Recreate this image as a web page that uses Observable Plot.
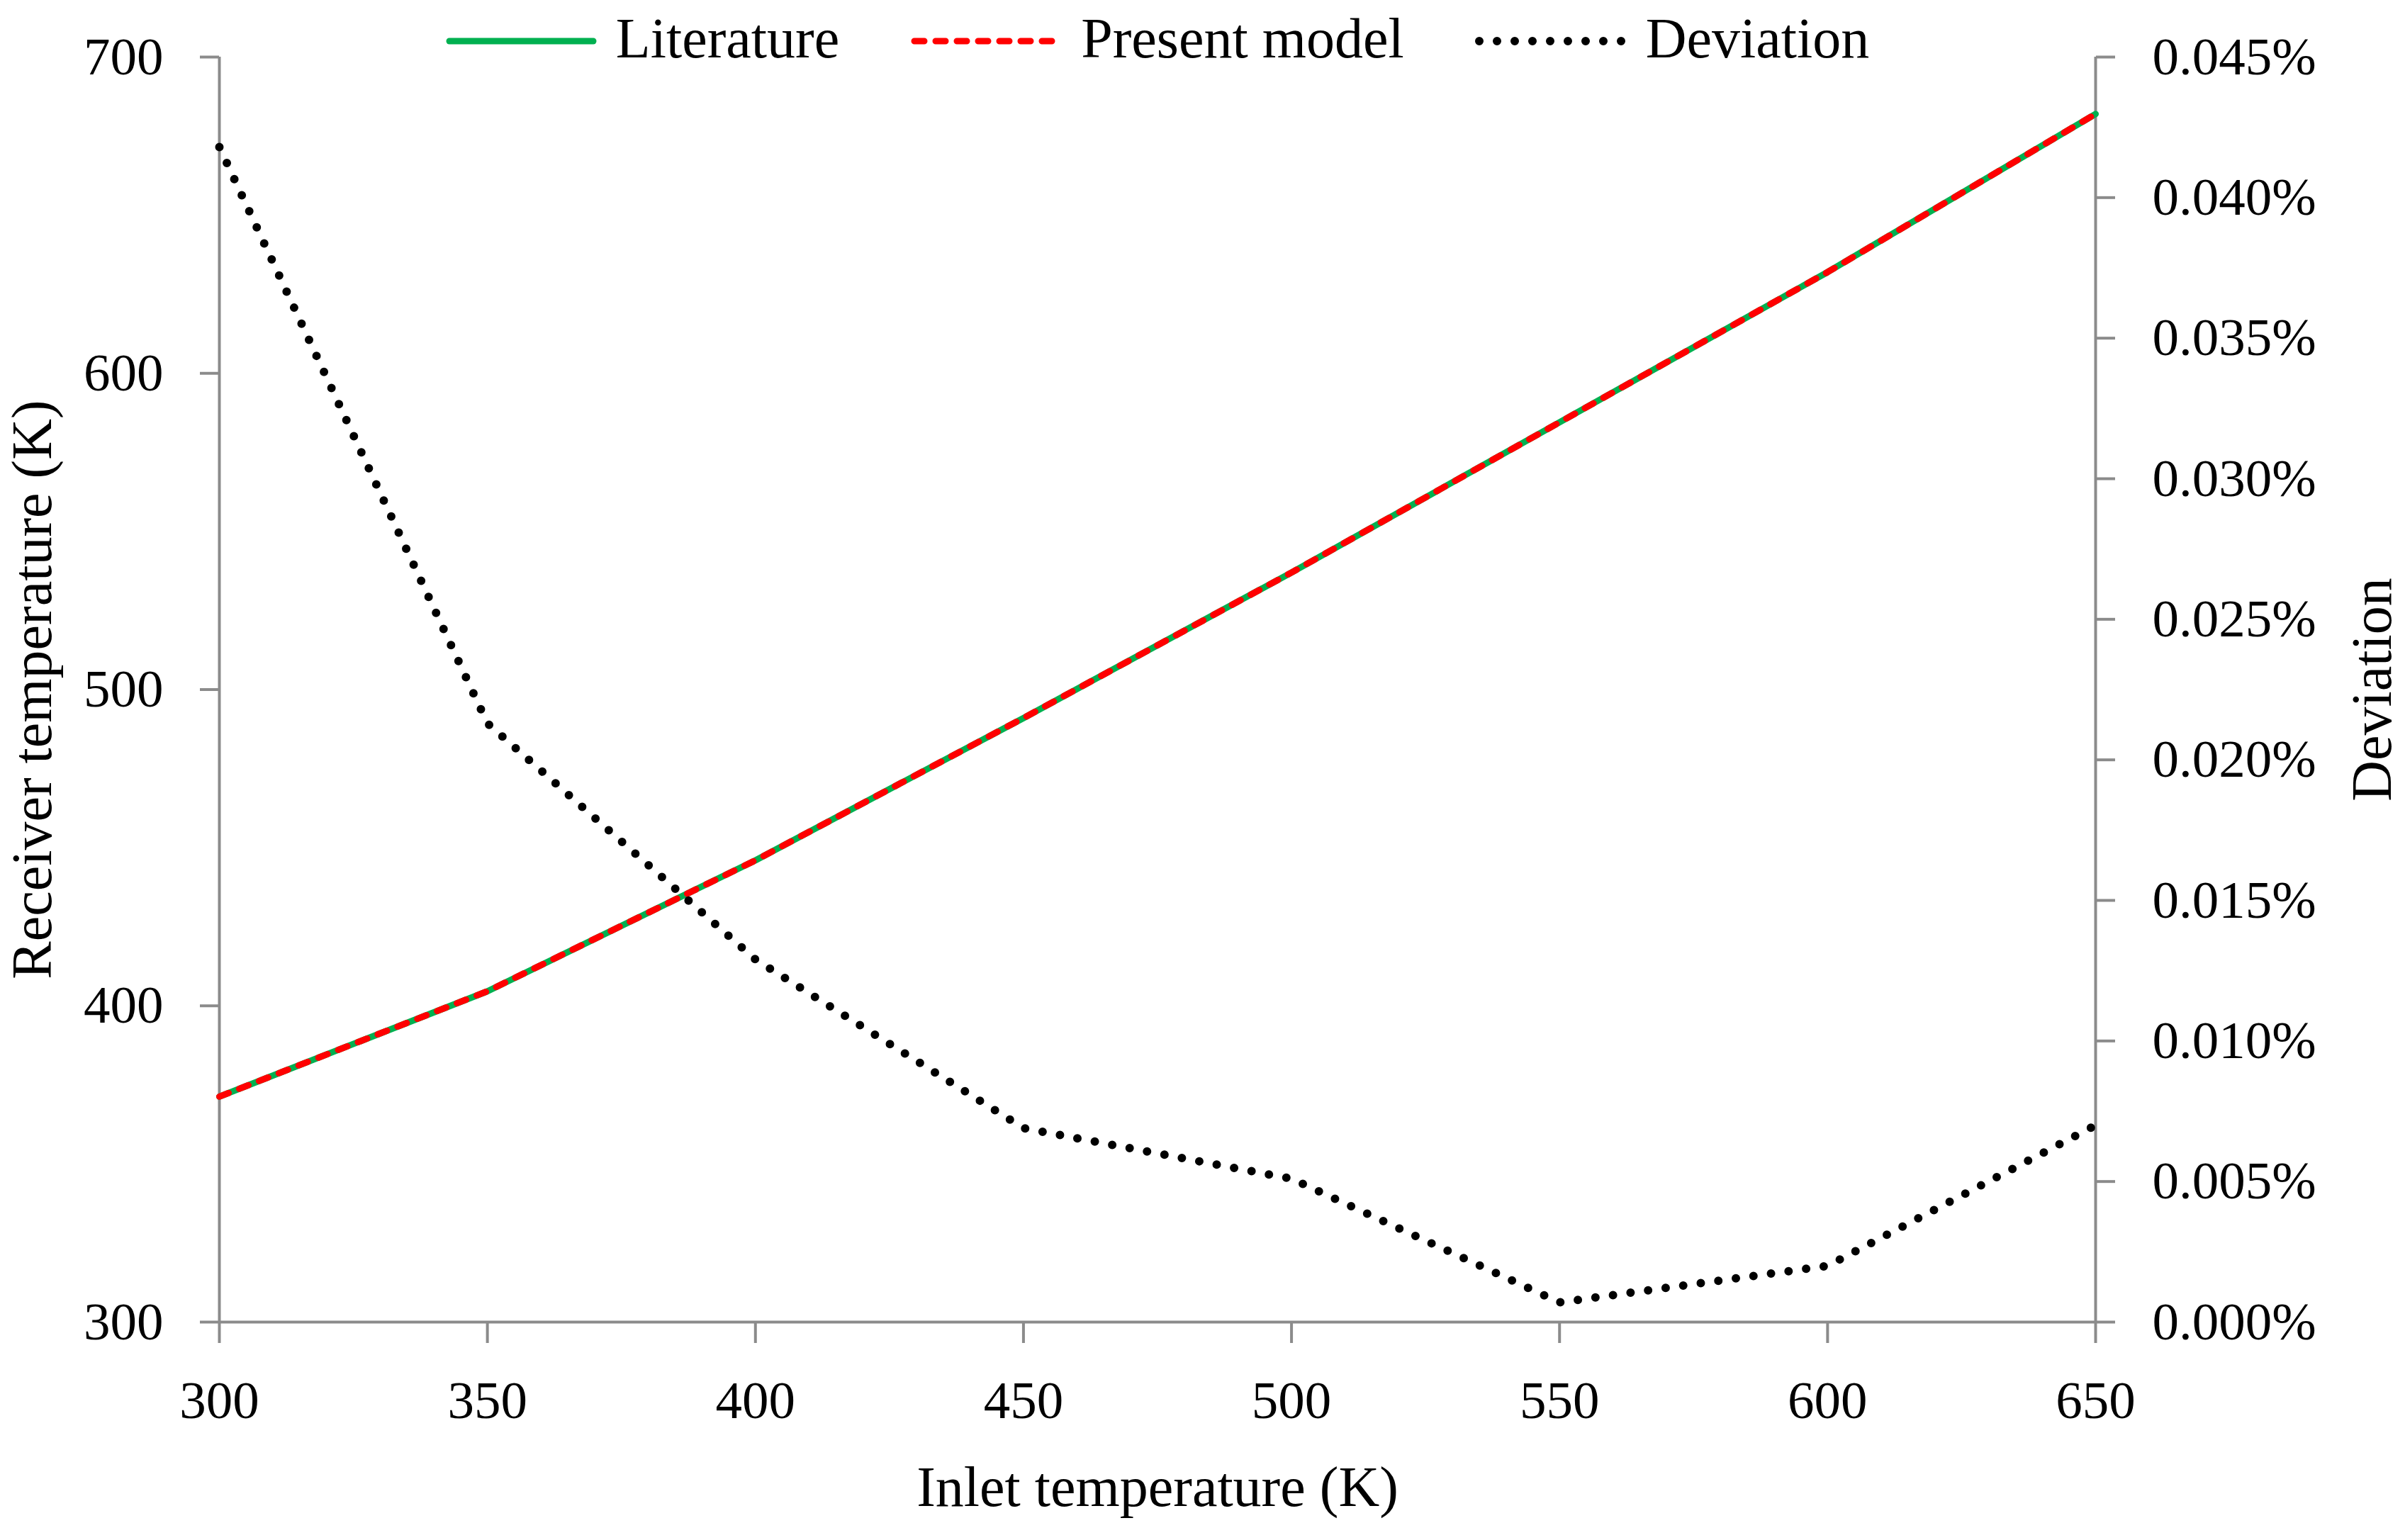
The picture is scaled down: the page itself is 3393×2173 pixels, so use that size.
<!DOCTYPE html>
<html>
<head>
<meta charset="utf-8">
<script src="https://cdn.jsdelivr.net/npm/d3@7"></script>
<script src="https://cdn.jsdelivr.net/npm/@observablehq/plot@0.6"></script>
<style>
  html, body { margin: 0; padding: 0; background: #ffffff; }
  #wrap { position: relative; width: 3393px; height: 2173px; font-family: "Liberation Serif", "Times New Roman", serif; }
  #legend { position: absolute; top: 15px; left: 309px; width: 2647px; height: 78px;
            display: flex; justify-content: center; align-items: center; gap: 100px; }
  .item { display: flex; align-items: center; height: 78px; }
  .item svg { display: block; margin-right: 26px; }
  .item span { font-size: 80px; line-height: 78px; color: #000; white-space: nowrap; }
</style>
</head>
<body>
<div id="wrap">
  <div id="chart"></div>
  <div id="legend"></div>
</div>
<script>
// ---------- data ----------
const inlet = [300, 350, 400, 450, 500, 550, 600, 650];
const literature = [371.3, 404.6, 446.0, 491.0, 537.0, 584.5, 632.0, 682.0];
const presentModel = [371.3, 404.6, 446.0, 491.0, 537.0, 584.5, 632.0, 682.0];
const deviation = [0.0418, 0.0213, 0.0129, 0.0069, 0.0051, 0.0007, 0.0020, 0.0070]; // in %
const xTicks = [300, 350, 400, 450, 500, 550, 600, 650];
const yLeftTicks = [300, 400, 500, 600, 700];
const yRightTicks = [0, 0.005, 0.010, 0.015, 0.020, 0.025, 0.030, 0.035, 0.040, 0.045];
const seriesNames = ["Literature", "Present model", "Deviation"];
const titles = {x: "Inlet temperature (K)", yLeft: "Receiver temperature (K)", yRight: "Deviation"};

// ---------- styling ----------
const gray = "#8b8b8b";
const green = "#00B050";
const red = "#FF0000";
const font = "Liberation Serif";

// dual axis mapping: right (deviation %) onto left domain
const leftDomain = [300, 700];
const rightDomain = [0, 0.045];
const toLeft = v => leftDomain[0] + (v - rightDomain[0]) / (rightDomain[1] - rightDomain[0]) * (leftDomain[1] - leftDomain[0]);
const fromLeft = y => rightDomain[0] + (y - leftDomain[0]) / (leftDomain[1] - leftDomain[0]) * (rightDomain[1] - rightDomain[0]);

const rows = inlet.map((x, i) => ({x, lit: literature[i], model: presentModel[i], dev: deviation[i]}));

const chart = Plot.plot({
  width: 3393,
  height: 2173,
  marginLeft: 309,
  marginRight: 437,
  marginTop: 80,
  marginBottom: 308,
  style: {fontFamily: font, background: "white", color: "black", overflow: "visible"},
  x: {domain: [300, 650]},
  y: {domain: leftDomain},
  marks: [
    Plot.axisX(xTicks, {tickSize: 30, tickPadding: 52, stroke: gray, strokeWidth: 4, fill: "black", fontSize: 75, tickFormat: d => String(d), label: null}),
    Plot.axisY(yLeftTicks, {anchor: "left", tickSize: 27, tickPadding: 52, stroke: gray, strokeWidth: 4, fill: "black", fontSize: 75, tickFormat: d => String(d), label: null}),
    Plot.axisY(yRightTicks.map(toLeft), {anchor: "right", tickSize: 27, tickPadding: 53, stroke: gray, strokeWidth: 4, fill: "black", fontSize: 75,
      tickFormat: d => fromLeft(d).toFixed(3) + "%", label: null}),
    Plot.ruleX([300, 650], {stroke: gray, strokeWidth: 4}),
    Plot.ruleY([300], {stroke: gray, strokeWidth: 4}),
    Plot.lineY(rows, {x: "x", y: "lit", stroke: green, strokeWidth: 9}),
    Plot.lineY(rows, {x: "x", y: "model", stroke: red, strokeWidth: 9, strokeDasharray: "14,16", strokeLinecap: "round"}),
    Plot.lineY(rows, {x: "x", y: d => toLeft(d.dev), stroke: "black", strokeWidth: 12, strokeDasharray: "0,25", strokeLinecap: "round"}),
    Plot.text([titles.x], {text: d => d, frameAnchor: "bottom", dy: 234, lineAnchor: "middle", textAnchor: "middle", fontSize: 80, fill: "black"}),
    Plot.text([titles.yLeft], {text: d => d, frameAnchor: "left", rotate: -90, dx: -263, lineAnchor: "middle", textAnchor: "middle", fontSize: 80, fill: "black"}),
    Plot.text([titles.yRight], {text: d => d, frameAnchor: "right", rotate: -90, dx: 391, lineAnchor: "middle", textAnchor: "middle", fontSize: 80, fill: "black"})
  ]
});
document.getElementById("chart").appendChild(chart);

// ---------- legend ----------
const swatches = [
  {stroke: green, width: 9, dash: null, cap: "round"},
  {stroke: red, width: 9, dash: "14,16", cap: "round"},
  {stroke: "black", width: 12, dash: "0,25", cap: "round"}
];
const legend = document.getElementById("legend");
seriesNames.forEach((name, i) => {
  const s = swatches[i];
  const item = document.createElement("div");
  item.className = "item";
  const ns = "http://www.w3.org/2000/svg";
  const svg = document.createElementNS(ns, "svg");
  svg.setAttribute("width", 215);
  svg.setAttribute("height", 78);
  const ln = document.createElementNS(ns, "line");
  ln.setAttribute("x1", 6); ln.setAttribute("x2", 209);
  ln.setAttribute("y1", 43); ln.setAttribute("y2", 43);
  ln.setAttribute("stroke", s.stroke);
  ln.setAttribute("stroke-width", s.width);
  ln.setAttribute("stroke-linecap", s.cap);
  if (s.dash) ln.setAttribute("stroke-dasharray", s.dash);
  svg.appendChild(ln);
  const span = document.createElement("span");
  span.textContent = name;
  item.appendChild(svg);
  item.appendChild(span);
  legend.appendChild(item);
});
</script>
</body>
</html>
